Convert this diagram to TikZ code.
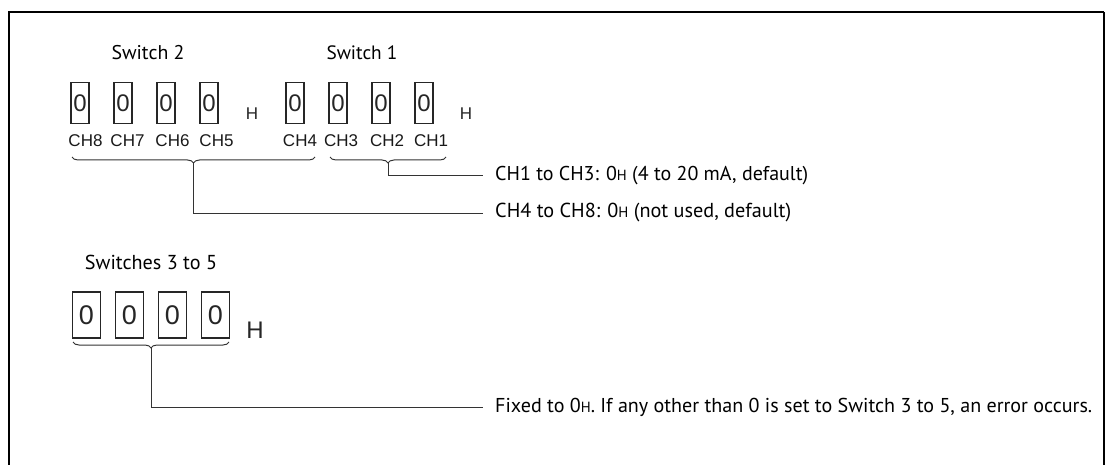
\documentclass[tikz,border=0pt]{standalone}
\usepackage{fontspec}
\setmainfont{PT Sans}
\newfontfamily\arialf{Liberation Sans}
\usetikzlibrary{decorations.pathreplacing,calc}
\newcommand{\fitw}[2]{\resizebox{#1pt}{!}{\fontsize{17}{20}\selectfont #2}}
\newcommand{\smH}{{\fontsize{12.5}{12}\selectfont H}}
\tikzset{
  digbox/.style={draw=black!85, line width=1.1pt, minimum width=18pt, minimum height=41pt, inner sep=0pt, text=black!85, font=\arialf\fontsize{24}{24}\selectfont},
  bigbox/.style={draw=black!85, line width=1.1pt, minimum width=28pt, minimum height=46pt, inner sep=0pt, text=black!85, font=\arialf\fontsize{27}{27}\selectfont},
  chlab/.style={inner sep=0pt, text=black!90, font=\arialf\fontsize{17}{17}\selectfont},
  hlab/.style={inner sep=0pt, text=black!85, font=\arialf\fontsize{17}{17}\selectfont},
  title/.style={inner sep=0pt, text=black},
  desc/.style={anchor=west, inner sep=0pt, text=black},
  conn/.style={draw=black!80, line width=1pt},
  brc/.style={draw=black!80, line width=1pt, decorate, decoration={brace, mirror, amplitude=6pt}},
  frame/.style={draw=black, line width=2.5pt}
}
\begin{document}
\begin{tikzpicture}[x=1pt,y=-1pt]
\useasboundingbox (0,0) rectangle (1105,465);
% frame
\draw[frame] (9,465) -- (9,12) -- (1104,12);
\draw[draw=black, line width=1.5pt] (1104,12) -- (1104,465);

% titles
\node[title] (sw2) at (148,53) {\fitw{73}{Switch 2}};
\node[title] (sw1) at (362,53) {\fitw{71}{Switch 1}};
\node[title] (sw35) at (151,262) {\fitw{132}{Switches 3 to 5}};

% top boxes
\node[digbox] (b8) at (80,103) {0};
\node[digbox] (b7) at (123,103) {0};
\node[digbox] (b6) at (166,103) {0};
\node[digbox] (b5) at (209,103) {0};
\node[hlab] (h2) at (252,114) {H};
\node[digbox] (b4) at (295,103) {0};
\node[digbox] (b3) at (338,103) {0};
\node[digbox] (b2) at (381,103) {0};
\node[digbox] (b1) at (424,103) {0};
\node[hlab] (h1) at (466,114) {H};

% channel labels
\node[chlab] (c8) at (85.5,141) {CH8};
\node[chlab] (c7) at (127.5,141) {CH7};
\node[chlab] (c6) at (172.5,141) {CH6};
\node[chlab] (c5) at (216.5,141) {CH5};
\node[chlab] (c4) at (300,141) {CH4};
\node[chlab] (c3) at (341,141) {CH3};
\node[chlab] (c2) at (387,141) {CH2};
\node[chlab] (c1) at (431,141) {CH1};

% braces
\coordinate (ba1) at (72,157);
\coordinate (bb1) at (315,157);
\coordinate (ba2) at (330,157);
\coordinate (bb2) at (446,157);
\draw[brc] (ba1) -- (bb1);
\draw[brc] (ba2) -- (bb2);
\coordinate (tip1) at (193.5,163);
\coordinate (tip2) at (388,163);

% descriptions
\node[desc] (d1) at (495,176) {\fitw{313}{CH1 to CH3: 0\smH{} (4 to 20 mA, default)}};
\node[desc] (d2) at (495,213) {\fitw{296}{CH4 to CH8: 0\smH{} (not used, default)}};
\coordinate (e1) at ($(d1.west)+(-12,0)$);
\coordinate (e2) at ($(d2.west)+(-12,0)$);
\draw[conn] (tip2) |- (e1);
\draw[conn] (tip1) |- (e2);

% bottom boxes
\node[bigbox] (s1) at (86.5,315) {0};
\node[bigbox] (s2) at (129.5,315) {0};
\node[bigbox] (s3) at (172.5,315) {0};
\node[bigbox] (s4) at (215.5,315) {0};
\node[inner sep=0pt, text=black!85, font=\arialf\fontsize{24}{24}\selectfont] (h3) at (255,330) {H};
\coordinate (ba3) at (73,342);
\coordinate (bb3) at (229,342);
\draw[brc] (ba3) -- (bb3);
\coordinate (tip3) at (151,348);
\node[desc] (d3) at (495,407) {\fitw{597}{Fixed to 0\smH. If any other than 0 is set to Switch 3 to 5, an error occurs.}};
\coordinate (e3) at ($(d3.west)+(-12,0)$);
\draw[conn] (tip3) |- (e3);
\end{tikzpicture}
\end{document}
